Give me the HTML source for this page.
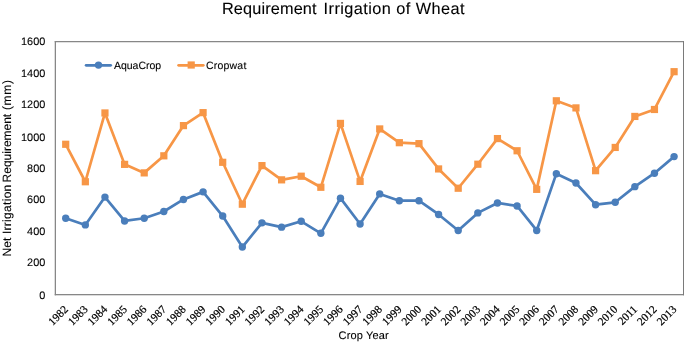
<!DOCTYPE html>
<html><head><meta charset="utf-8"><title>Requirement Irrigation of Wheat</title>
<style>
html,body{margin:0;padding:0;background:#fff;}
svg{display:block;}
text{font-family:"Liberation Sans",sans-serif;fill:#000;text-rendering:geometricPrecision;stroke:#000;stroke-width:0.1px;}
.xl{font-family:"Liberation Serif",serif;font-size:11.3px;stroke:#000;stroke-width:0.2px;}
.yl{font-size:10.9px;letter-spacing:0.05px;}
</style></head><body>
<svg width="685" height="343" viewBox="0 0 685 343">
<rect width="685" height="343" fill="#fff"/>
<text y="13.7" font-size="16.3"><tspan x="221.9" textLength="94.7" lengthAdjust="spacing">Requirement</tspan> <tspan x="323.6" textLength="141" lengthAdjust="spacing">Irrigation of Wheat</tspan></text>
<g fill="#878787"><rect x="54.75" y="41" width="629.25" height="1.25"/><rect x="54.75" y="294" width="629.25" height="1.3"/><rect x="54.72" y="41" width="1.28" height="254.3"/><rect x="683" y="41" width="1" height="254.3" fill="#7a7a7a"/></g>
<text class="yl" x="45.4" y="298.6" text-anchor="end">0</text>
<text class="yl" x="45.4" y="266.2" text-anchor="end">200</text>
<text class="yl" x="45.4" y="234.85" text-anchor="end">400</text>
<text class="yl" x="45.4" y="203.25" text-anchor="end">600</text>
<text class="yl" x="45.4" y="171.9" text-anchor="end">800</text>
<text class="yl" x="45.4" y="140.5" text-anchor="end">1000</text>
<text class="yl" x="45.4" y="108.35" text-anchor="end">1200</text>
<text class="yl" x="45.4" y="77.0" text-anchor="end">1400</text>
<text class="yl" x="45.4" y="45.4" text-anchor="end">1600</text>
<text transform="translate(10.9,0) rotate(-90)" font-size="12" stroke-width="0.3"><tspan x="-256.4" textLength="18.7" lengthAdjust="spacing">Net</tspan> <tspan x="-234.1" textLength="49.4" lengthAdjust="spacing">Irrigation</tspan> <tspan x="-182.4" textLength="68.6" lengthAdjust="spacing">Requirement</tspan> <tspan x="-110.1" textLength="30.1" lengthAdjust="spacing">(mm)</tspan></text>
<text x="363.6" y="339.1" text-anchor="middle" font-size="11" stroke-width="0.25" textLength="50" lengthAdjust="spacing">Crop Year</text>
<text class="xl" transform="translate(68.81,309.9) rotate(-45)" text-anchor="end">1982</text>
<text class="xl" transform="translate(88.44,309.9) rotate(-45)" text-anchor="end">1983</text>
<text class="xl" transform="translate(108.06,309.9) rotate(-45)" text-anchor="end">1984</text>
<text class="xl" transform="translate(127.69,309.9) rotate(-45)" text-anchor="end">1985</text>
<text class="xl" transform="translate(147.31,309.9) rotate(-45)" text-anchor="end">1986</text>
<text class="xl" transform="translate(166.94,309.9) rotate(-45)" text-anchor="end">1987</text>
<text class="xl" transform="translate(186.56,309.9) rotate(-45)" text-anchor="end">1988</text>
<text class="xl" transform="translate(206.19,309.9) rotate(-45)" text-anchor="end">1989</text>
<text class="xl" transform="translate(225.81,309.9) rotate(-45)" text-anchor="end">1990</text>
<text class="xl" transform="translate(245.44,309.9) rotate(-45)" text-anchor="end">1991</text>
<text class="xl" transform="translate(265.06,309.9) rotate(-45)" text-anchor="end">1992</text>
<text class="xl" transform="translate(284.69,309.9) rotate(-45)" text-anchor="end">1993</text>
<text class="xl" transform="translate(304.31,309.9) rotate(-45)" text-anchor="end">1994</text>
<text class="xl" transform="translate(323.94,309.9) rotate(-45)" text-anchor="end">1995</text>
<text class="xl" transform="translate(343.56,309.9) rotate(-45)" text-anchor="end">1996</text>
<text class="xl" transform="translate(363.19,309.9) rotate(-45)" text-anchor="end">1997</text>
<text class="xl" transform="translate(382.81,309.9) rotate(-45)" text-anchor="end">1998</text>
<text class="xl" transform="translate(402.44,309.9) rotate(-45)" text-anchor="end">1999</text>
<text class="xl" transform="translate(422.06,309.9) rotate(-45)" text-anchor="end">2000</text>
<text class="xl" transform="translate(441.69,309.9) rotate(-45)" text-anchor="end">2001</text>
<text class="xl" transform="translate(461.31,309.9) rotate(-45)" text-anchor="end">2002</text>
<text class="xl" transform="translate(480.94,309.9) rotate(-45)" text-anchor="end">2003</text>
<text class="xl" transform="translate(500.56,309.9) rotate(-45)" text-anchor="end">2004</text>
<text class="xl" transform="translate(520.19,309.9) rotate(-45)" text-anchor="end">2005</text>
<text class="xl" transform="translate(539.81,309.9) rotate(-45)" text-anchor="end">2006</text>
<text class="xl" transform="translate(559.44,309.9) rotate(-45)" text-anchor="end">2007</text>
<text class="xl" transform="translate(579.06,309.9) rotate(-45)" text-anchor="end">2008</text>
<text class="xl" transform="translate(598.69,309.9) rotate(-45)" text-anchor="end">2009</text>
<text class="xl" transform="translate(618.31,309.9) rotate(-45)" text-anchor="end">2010</text>
<text class="xl" transform="translate(637.94,309.9) rotate(-45)" text-anchor="end">2011</text>
<text class="xl" transform="translate(657.56,309.9) rotate(-45)" text-anchor="end">2012</text>
<text class="xl" transform="translate(677.19,309.9) rotate(-45)" text-anchor="end">2013</text>
<polyline points="65.71,218.28 85.34,224.92 104.96,197.09 124.59,220.96 144.21,218.28 163.84,211.48 183.46,199.46 203.09,191.87 222.71,216.06 242.34,247.05 261.96,222.86 281.59,227.13 301.21,221.28 320.84,233.30 340.46,198.19 360.09,223.97 379.71,193.92 399.34,200.72 418.96,200.72 438.59,214.48 458.21,230.45 477.84,212.90 497.46,202.94 517.09,205.94 536.71,230.45 556.34,173.68 575.96,183.01 595.59,204.68 615.21,202.31 634.84,186.65 654.46,173.21 674.09,156.61" fill="none" stroke="#4a7ebb" stroke-width="2.7" stroke-linejoin="round" stroke-linecap="round"/>
<circle cx="65.71" cy="218.28" r="3.7" fill="#4a7ebb"/><circle cx="85.34" cy="224.92" r="3.7" fill="#4a7ebb"/><circle cx="104.96" cy="197.09" r="3.7" fill="#4a7ebb"/><circle cx="124.59" cy="220.96" r="3.7" fill="#4a7ebb"/><circle cx="144.21" cy="218.28" r="3.7" fill="#4a7ebb"/><circle cx="163.84" cy="211.48" r="3.7" fill="#4a7ebb"/><circle cx="183.46" cy="199.46" r="3.7" fill="#4a7ebb"/><circle cx="203.09" cy="191.87" r="3.7" fill="#4a7ebb"/><circle cx="222.71" cy="216.06" r="3.7" fill="#4a7ebb"/><circle cx="242.34" cy="247.05" r="3.7" fill="#4a7ebb"/><circle cx="261.96" cy="222.86" r="3.7" fill="#4a7ebb"/><circle cx="281.59" cy="227.13" r="3.7" fill="#4a7ebb"/><circle cx="301.21" cy="221.28" r="3.7" fill="#4a7ebb"/><circle cx="320.84" cy="233.30" r="3.7" fill="#4a7ebb"/><circle cx="340.46" cy="198.19" r="3.7" fill="#4a7ebb"/><circle cx="360.09" cy="223.97" r="3.7" fill="#4a7ebb"/><circle cx="379.71" cy="193.92" r="3.7" fill="#4a7ebb"/><circle cx="399.34" cy="200.72" r="3.7" fill="#4a7ebb"/><circle cx="418.96" cy="200.72" r="3.7" fill="#4a7ebb"/><circle cx="438.59" cy="214.48" r="3.7" fill="#4a7ebb"/><circle cx="458.21" cy="230.45" r="3.7" fill="#4a7ebb"/><circle cx="477.84" cy="212.90" r="3.7" fill="#4a7ebb"/><circle cx="497.46" cy="202.94" r="3.7" fill="#4a7ebb"/><circle cx="517.09" cy="205.94" r="3.7" fill="#4a7ebb"/><circle cx="536.71" cy="230.45" r="3.7" fill="#4a7ebb"/><circle cx="556.34" cy="173.68" r="3.7" fill="#4a7ebb"/><circle cx="575.96" cy="183.01" r="3.7" fill="#4a7ebb"/><circle cx="595.59" cy="204.68" r="3.7" fill="#4a7ebb"/><circle cx="615.21" cy="202.31" r="3.7" fill="#4a7ebb"/><circle cx="634.84" cy="186.65" r="3.7" fill="#4a7ebb"/><circle cx="654.46" cy="173.21" r="3.7" fill="#4a7ebb"/><circle cx="674.09" cy="156.61" r="3.7" fill="#4a7ebb"/>
<polyline points="65.71,144.27 85.34,181.75 104.96,112.96 124.59,164.36 144.21,172.89 163.84,155.82 183.46,125.61 203.09,112.65 222.71,162.30 242.34,204.20 261.96,165.62 281.59,179.85 301.21,176.21 320.84,187.28 340.46,123.40 360.09,181.43 379.71,128.94 399.34,142.69 418.96,143.64 438.59,168.94 458.21,188.23 477.84,164.20 497.46,138.58 517.09,150.76 536.71,189.34 556.34,100.79 575.96,107.90 595.59,170.68 615.21,147.44 634.84,116.44 654.46,109.49 674.09,71.69" fill="none" stroke="#f79646" stroke-width="2.7" stroke-linejoin="round" stroke-linecap="round"/>
<rect x="62.11" y="140.67" width="7.2" height="7.2" fill="#f79646"/><rect x="81.74" y="178.15" width="7.2" height="7.2" fill="#f79646"/><rect x="101.36" y="109.36" width="7.2" height="7.2" fill="#f79646"/><rect x="120.99" y="160.76" width="7.2" height="7.2" fill="#f79646"/><rect x="140.61" y="169.29" width="7.2" height="7.2" fill="#f79646"/><rect x="160.24" y="152.22" width="7.2" height="7.2" fill="#f79646"/><rect x="179.86" y="122.01" width="7.2" height="7.2" fill="#f79646"/><rect x="199.49" y="109.05" width="7.2" height="7.2" fill="#f79646"/><rect x="219.11" y="158.70" width="7.2" height="7.2" fill="#f79646"/><rect x="238.74" y="200.60" width="7.2" height="7.2" fill="#f79646"/><rect x="258.36" y="162.02" width="7.2" height="7.2" fill="#f79646"/><rect x="277.99" y="176.25" width="7.2" height="7.2" fill="#f79646"/><rect x="297.61" y="172.61" width="7.2" height="7.2" fill="#f79646"/><rect x="317.24" y="183.68" width="7.2" height="7.2" fill="#f79646"/><rect x="336.86" y="119.80" width="7.2" height="7.2" fill="#f79646"/><rect x="356.49" y="177.83" width="7.2" height="7.2" fill="#f79646"/><rect x="376.11" y="125.34" width="7.2" height="7.2" fill="#f79646"/><rect x="395.74" y="139.09" width="7.2" height="7.2" fill="#f79646"/><rect x="415.36" y="140.04" width="7.2" height="7.2" fill="#f79646"/><rect x="434.99" y="165.34" width="7.2" height="7.2" fill="#f79646"/><rect x="454.61" y="184.63" width="7.2" height="7.2" fill="#f79646"/><rect x="474.24" y="160.60" width="7.2" height="7.2" fill="#f79646"/><rect x="493.86" y="134.98" width="7.2" height="7.2" fill="#f79646"/><rect x="513.49" y="147.16" width="7.2" height="7.2" fill="#f79646"/><rect x="533.11" y="185.74" width="7.2" height="7.2" fill="#f79646"/><rect x="552.74" y="97.19" width="7.2" height="7.2" fill="#f79646"/><rect x="572.36" y="104.30" width="7.2" height="7.2" fill="#f79646"/><rect x="591.99" y="167.08" width="7.2" height="7.2" fill="#f79646"/><rect x="611.61" y="143.84" width="7.2" height="7.2" fill="#f79646"/><rect x="631.24" y="112.84" width="7.2" height="7.2" fill="#f79646"/><rect x="650.86" y="105.89" width="7.2" height="7.2" fill="#f79646"/><rect x="670.49" y="68.09" width="7.2" height="7.2" fill="#f79646"/>
<line x1="86.1" y1="65.35" x2="110.7" y2="65.35" stroke="#4a7ebb" stroke-width="2.7" stroke-linecap="round"/><circle cx="98.5" cy="65.1" r="3.7" fill="#4a7ebb"/>
<text x="113.9" y="69.3" font-size="10.5" textLength="47.3" lengthAdjust="spacing">AquaCrop</text>
<line x1="178.6" y1="65.35" x2="203.3" y2="65.35" stroke="#f79646" stroke-width="2.7" stroke-linecap="round"/><rect x="187.6" y="61.4" width="7.2" height="7.2" fill="#f79646"/>
<text x="206.1" y="69.3" font-size="10.5" textLength="40.2" lengthAdjust="spacing">Cropwat</text>
</svg>
</body></html>
